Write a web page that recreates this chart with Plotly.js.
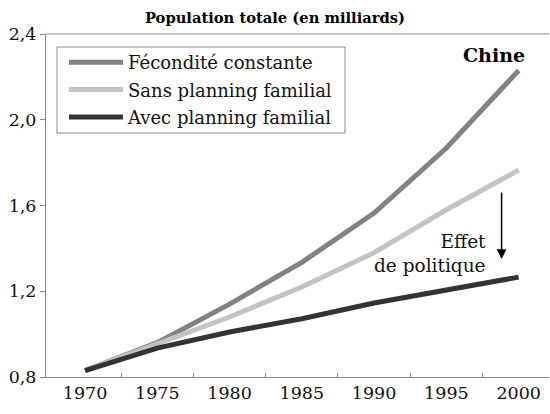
<!DOCTYPE html>
<html>
<head>
<meta charset="utf-8">
<script src="https://cdn.plot.ly/plotly-3.0.1.min.js"></script>
<style>html,body{margin:0;padding:0;background:#fff;}#chart{width:550px;height:414px;}</style>
</head>
<body>
<div id="chart"></div>
<script>
var years = [1970, 1975, 1980, 1985, 1990, 1995, 2000];
var feconditeConstante = [0.83, 0.96, 1.14, 1.335, 1.565, 1.868, 2.23];
var sansPlanning = [0.83, 0.955, 1.08, 1.22, 1.38, 1.58, 1.765];
var avecPlanning = [0.83, 0.935, 1.01, 1.072, 1.145, 1.207, 1.266];
var seriesNames = ['Fécondité constante', 'Sans planning familial', 'Avec planning familial'];
var yTickVals = [0.8, 1.2, 1.6, 2.0, 2.4];
var yTickText = ['0,8', '1,2', '1,6', '2,0', '2,4'];
var xTickMarks = [1972.5, 1977.5, 1982.5, 1987.5, 1992.5, 1997.5];

var font = 'DejaVu Serif';
var xr = [1967.3, 2002.1];
var W = 550, H = 414, ML = 46, MR = 1, MT = 34, MB = 37;
var pw = W - ML - MR, ph = H - MT - MB;
function px(x) { return (x - ML) / pw; }
function py(y) { return (H - MB - y) / ph; }

var traces = [
  {x: years, y: feconditeConstante, name: seriesNames[0], mode: 'lines', line: {color: '#828282', width: 5}, legendgroup: 'a'},
  {x: years, y: sansPlanning, name: seriesNames[1], mode: 'lines', line: {color: '#c3c3c3', width: 5}, legendgroup: 'b'},
  {x: years, y: avecPlanning, name: seriesNames[2], mode: 'lines', line: {color: '#333333', width: 5}, legendgroup: 'c'}
];
var layout = {
  width: W, height: H,
  margin: {l: ML, r: MR, t: MT, b: MB},
  paper_bgcolor: '#fff', plot_bgcolor: '#fff',
  font: {family: font, size: 17, color: '#111'},
  title: {text: '<b>Population totale (en milliards)</b>', font: {family: font, size: 14.7, color: '#000'}, x: 0.5, xanchor: 'center', y: 0.958, yanchor: 'middle'},
  showlegend: true,
  legend: {x: px(64), y: py(44), xanchor: 'left', yanchor: 'top', borderwidth: 0, bgcolor: 'rgba(0,0,0,0)',
           font: {family: font, size: 18, color: '#111'}, itemwidth: 54, traceorder: 'grouped', tracegroupgap: 1},
  xaxis: {range: xr, tickvals: years, ticktext: years.map(String), ticks: '', showgrid: false, zeroline: false,
          showline: true, linecolor: '#888', linewidth: 1, mirror: false, tickfont: {family: font, size: 17.5, color: '#111'}},
  xaxis2: {range: xr, overlaying: 'x', anchor: 'y', side: 'bottom', tickvals: xTickMarks, ticks: 'inside', ticklen: 4, tickcolor: '#888',
           showticklabels: false, showgrid: false, zeroline: false, showline: false},
  yaxis: {range: [0.8, 2.4], tickvals: yTickVals, ticktext: yTickText, ticks: 'outside', ticklen: 5, tickcolor: '#888',
          showgrid: false, zeroline: false, showline: true, linecolor: '#888', linewidth: 1, tickfont: {family: font, size: 17.5, color: '#111'}},
  shapes: [
    {type: 'line', xref: 'paper', yref: 'paper', x0: 0, x1: 1, y0: 1, y1: 1, line: {color: '#888', width: 1}},
    {type: 'rect', xref: 'paper', yref: 'paper', x0: px(57), x1: px(345), y0: py(133), y1: py(47), line: {color: '#888', width: 1}, fillcolor: '#fff', layer: 'above'}
  ],
  annotations: [
    {x: 1998.3, y: 2.30, xref: 'x', yref: 'y', text: '<b>Chine</b>', showarrow: false, font: {family: font, size: 19, color: '#000'}},
    {x: 1997.9, y: 1.378, xref: 'x', yref: 'y', text: 'Effet<br>de politique', showarrow: false, xanchor: 'right', align: 'right',
     font: {family: font, size: 18.5, color: '#111'}},
    {x: 1998.82, y: 1.35, ax: 1998.82, ay: 1.668, xref: 'x', yref: 'y', axref: 'x', ayref: 'y', text: '', showarrow: true,
     arrowhead: 2, arrowsize: 1.3, arrowwidth: 1.5, arrowcolor: '#000'}
  ]
};
traces.push({x: [xr[0]], y: [0.8], xaxis: 'x2', mode: 'none', showlegend: false, hoverinfo: 'skip'});
Plotly.newPlot('chart', traces, layout, {staticPlot: true});
</script>
</body>
</html>
